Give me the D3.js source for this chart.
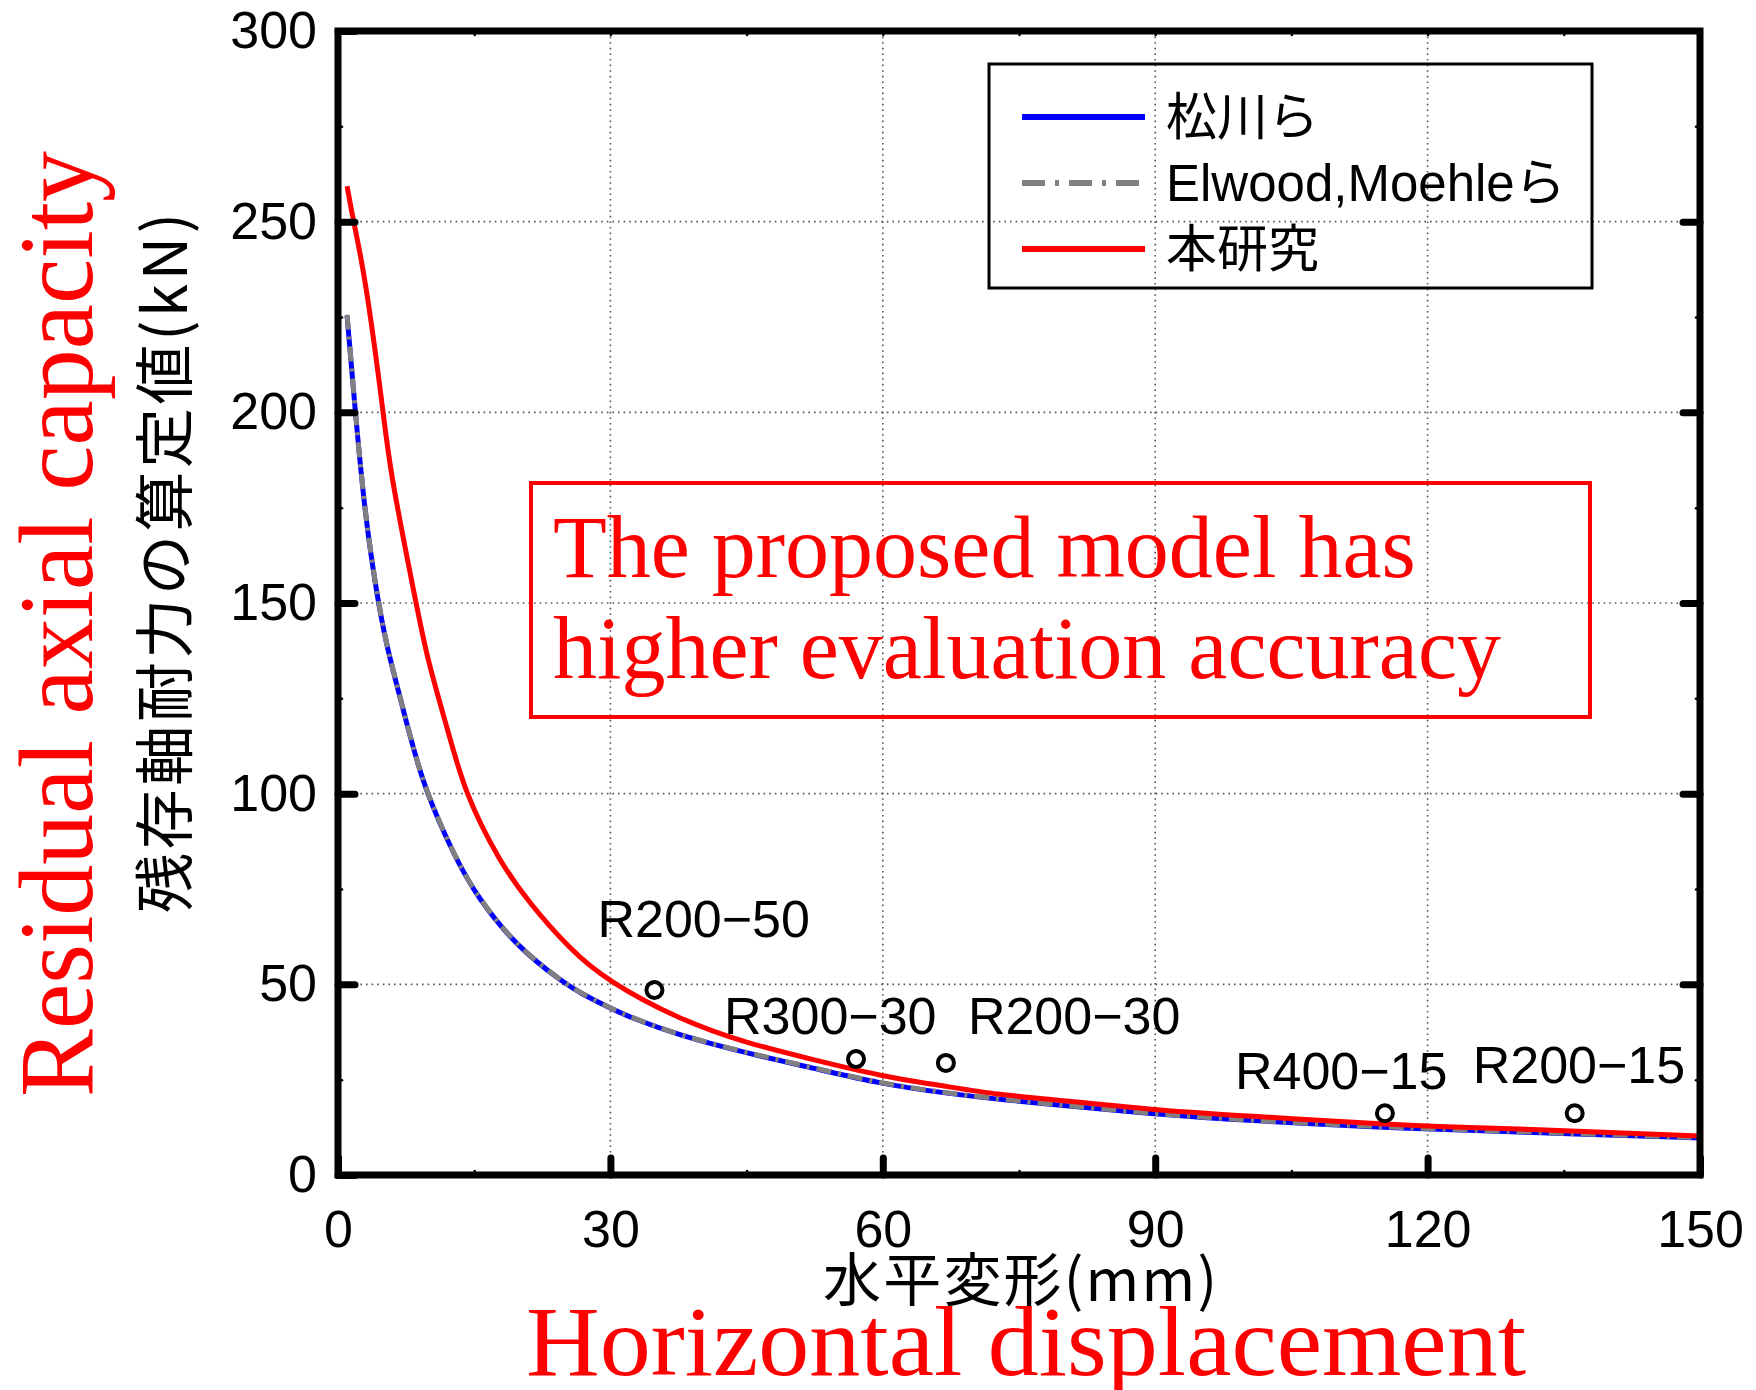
<!DOCTYPE html>
<html>
<head>
<meta charset="utf-8">
<script src="https://cdn.jsdelivr.net/npm/d3@7"></script>
<style>
  body { margin: 0; background: #fff; }
</style>
</head>
<body>
<svg id="chart" width="1756" height="1390"></svg>
<script>
// Residual axial capacity (kN) against horizontal displacement (mm), [x, y] pairs
const matsukawa = [
  [1.0, 225.3], [1.8, 203.0], [2.9, 174.4], [4.3, 151.6], [5.4, 138.5], [6.1, 132.0],
  [7.9, 115.3], [9.6, 100.8], [12.9, 83.2], [15.3, 73.0], [19.7, 59.8], [24.9, 50.3],
  [26.7, 47.7], [30.0, 43.7], [32.2, 41.3], [37.7, 36.5], [45.1, 31.9], [52.4, 28.0],
  [60.0, 23.8], [67.1, 21.4], [72.9, 19.8], [77.4, 18.8], [90.0, 15.9], [100.0, 14.3],
  [114.9, 12.5], [120.0, 12.1], [137.0, 10.7], [150.0, 9.7]
];
const elwoodMoehle = [
  [1.0, 225.6], [1.8, 203.2], [2.9, 174.6], [4.3, 151.8], [5.4, 138.6], [6.1, 132.2],
  [7.9, 115.4], [9.6, 100.9], [12.9, 83.3], [15.3, 73.1], [19.7, 59.9], [24.9, 50.4],
  [26.7, 47.8], [30.0, 43.8], [32.2, 41.4], [37.7, 36.6], [45.1, 32.0], [52.4, 28.1],
  [60.0, 23.9], [67.1, 21.5], [72.9, 19.9], [77.4, 18.9], [90.0, 16.0], [100.0, 14.4],
  [114.9, 12.6], [120.0, 12.2], [137.0, 10.8], [150.0, 9.8]
];
const proposed = [
  [1.0, 259.3], [1.7, 250.0], [3.0, 235.7], [5.0, 200.0], [5.7, 184.8], [8.6, 150.0],
  [9.8, 135.5], [12.2, 115.8], [14.0, 100.0], [17.7, 82.6], [20.8, 72.1], [25.6, 59.0],
  [29.6, 51.0], [37.7, 40.6], [45.1, 34.5], [52.4, 30.2], [60.0, 25.8], [67.1, 23.2],
  [72.9, 21.0], [77.4, 20.1], [90.0, 17.0], [100.0, 15.5], [114.9, 13.4], [120.0, 12.8],
  [137.3, 11.5], [150.0, 10.2]
];

// Test specimens
const specimenNames = ["R200−50", "R300−30", "R200−30", "R400−15", "R200−15"];
const specimenX = [34.85, 57.05, 66.95, 115.3, 136.2];
const specimenY = [48.5, 30.4, 29.4, 16.2, 16.2];

// Axis ticks and legend
const xTicks = [0, 30, 60, 90, 120, 150];
const yTicks = [0, 50, 100, 150, 200, 250, 300];
const xMinorTicks = [15, 45, 75, 105, 135];
const yMinorTicks = [25, 75, 125, 175, 225, 275];
const legendLabels = ["松川ら", "Elwood,Moehleら", "本研究"];

const svg = d3.select("#chart");
const x = d3.scaleLinear().domain([0, 150]).range([338, 1700]);
const y = d3.scaleLinear().domain([0, 300]).range([1175, 31]);

const NUM_FONT = "'Liberation Sans', Arial, sans-serif";
const JP_FONT = "'Noto Sans CJK JP', 'Liberation Sans', sans-serif";
const SERIF = "'Liberation Serif', 'Times New Roman', serif";

svg.append("rect").attr("width", 1756).attr("height", 1390).attr("fill", "#fff");

// dotted grid
const grid = svg.append("g")
  .attr("stroke", "#555").attr("stroke-width", 1.6).attr("stroke-dasharray", "1.6,4");
grid.selectAll(".gx").data(xTicks.slice(1, -1)).join("line")
  .attr("x1", d => x(d)).attr("x2", d => x(d)).attr("y1", y(300)).attr("y2", y(0));
grid.selectAll(".gy").data(yTicks.slice(1, -1)).join("line")
  .attr("y1", d => y(d)).attr("y2", d => y(d)).attr("x1", x(0)).attr("x2", x(150));

// curves
svg.append("clipPath").attr("id", "plotClip").append("rect")
  .attr("x", x(0)).attr("y", y(300)).attr("width", x(150) - x(0)).attr("height", y(0) - y(300));
const plot = svg.append("g").attr("clip-path", "url(#plotClip)");
const line = d3.line().x(d => x(d[0])).y(d => y(d[1])).curve(d3.curveBasis);

plot.append("path").datum(matsukawa).attr("d", line)
  .attr("fill", "none").attr("stroke", "#0000ff").attr("stroke-width", 5);
plot.append("path").datum(elwoodMoehle).attr("d", line)
  .attr("fill", "none").attr("stroke", "#808080").attr("stroke-width", 5)
  .attr("stroke-dasharray", "15,7,3,7");
plot.append("path").datum(proposed).attr("d", line)
  .attr("fill", "none").attr("stroke", "#ff0000").attr("stroke-width", 5);

// specimen markers and names
const specimens = specimenNames.map((n, i) => ({ name: n, x: specimenX[i], y: specimenY[i] }));
svg.append("g").selectAll("circle").data(specimens).join("circle")
  .attr("cx", d => x(d.x)).attr("cy", d => y(d.y)).attr("r", 8)
  .attr("fill", "none").attr("stroke", "#000").attr("stroke-width", 4);

// label placement relative to each marker (left edge, baseline)
const labelOffsets = [[-57, -53], [-132, -25], [22, -29], [-150, -24], [-102, -30]];
svg.append("g").selectAll("text").data(specimens).join("text")
  .attr("x", (d, i) => x(d.x) + labelOffsets[i][0])
  .attr("y", (d, i) => y(d.y) + labelOffsets[i][1])
  .attr("font-family", NUM_FONT).attr("font-size", 52).attr("fill", "#000")
  .text(d => d.name);

// axes: thick inward major ticks, small minor ticks
function styleAxis(g, width) {
  g.select(".domain").remove();
  g.selectAll(".tick line").attr("stroke", "#000").attr("stroke-width", width).attr("stroke-linecap", "round");
  g.selectAll(".tick text").attr("font-family", NUM_FONT).attr("font-size", 52).attr("fill", "#000");
}
svg.append("g").attr("transform", `translate(${x(0)},0)`)
  .call(d3.axisLeft(y).tickValues(yTicks).tickSizeInner(-17).tickSizeOuter(0).tickPadding(21))
  .call(g => styleAxis(g, 7));
svg.append("g").attr("transform", `translate(${x(150)},0)`)
  .call(d3.axisRight(y).tickValues(yTicks.slice(1, -1)).tickSizeInner(-17).tickSizeOuter(0).tickFormat(""))
  .call(g => styleAxis(g, 7));
svg.append("g").attr("transform", `translate(0,${y(0)})`)
  .call(d3.axisBottom(x).tickValues(xTicks).tickSizeInner(-17).tickSizeOuter(0).tickPadding(35))
  .call(g => styleAxis(g, 7));
svg.append("g").attr("transform", `translate(0,${y(300)})`)
  .call(d3.axisTop(x).tickValues(xMinorTicks.concat(xTicks.slice(1, -1))).tickSizeInner(-4).tickSizeOuter(0).tickFormat(""))
  .call(g => styleAxis(g, 2.5));
svg.append("g").attr("transform", `translate(0,${y(0)})`)
  .call(d3.axisBottom(x).tickValues(xMinorTicks).tickSizeInner(-4).tickSizeOuter(0).tickFormat(""))
  .call(g => styleAxis(g, 2.5));
svg.append("g").attr("transform", `translate(${x(0)},0)`)
  .call(d3.axisLeft(y).tickValues(yMinorTicks).tickSizeInner(-4).tickSizeOuter(0).tickFormat(""))
  .call(g => styleAxis(g, 2.5));
svg.append("g").attr("transform", `translate(${x(150)},0)`)
  .call(d3.axisRight(y).tickValues(yMinorTicks).tickSizeInner(-4).tickSizeOuter(0).tickFormat(""))
  .call(g => styleAxis(g, 2.5));

// plot frame
svg.append("rect")
  .attr("x", x(0)).attr("y", y(300)).attr("width", x(150) - x(0)).attr("height", y(0) - y(300))
  .attr("fill", "none").attr("stroke", "#000").attr("stroke-width", 7);

// legend
const legend = svg.append("g");
legend.append("rect").attr("x", 989).attr("y", 64).attr("width", 603).attr("height", 224)
  .attr("fill", "none").attr("stroke", "#000").attr("stroke-width", 3);
const legendStyles = [
  { color: "#0000ff", dash: null },
  { color: "#808080", dash: "23,10,4,10" },
  { color: "#ff0000", dash: null }
];
legendLabels.forEach((label, i) => {
  const ly = 117 + i * 66;
  legend.append("line").attr("x1", 1022).attr("x2", 1145).attr("y1", ly).attr("y2", ly)
    .attr("stroke", legendStyles[i].color).attr("stroke-width", 6)
    .attr("stroke-dasharray", legendStyles[i].dash);
  legend.append("text").attr("x", 1166).attr("y", ly).attr("dominant-baseline", "central")
    .attr("font-family", NUM_FONT + ", 'Noto Sans CJK JP'").attr("font-size", 51).attr("fill", "#000")
    .text(label);
});

// annotation box
svg.append("rect").attr("x", 531).attr("y", 483).attr("width", 1059).attr("height", 234)
  .attr("fill", "none").attr("stroke", "#ff0000").attr("stroke-width", 4);
["The proposed model has", "higher evaluation accuracy"].forEach((t, i) => {
  svg.append("text").attr("x", 553).attr("y", 577 + i * 101)
    .attr("font-family", SERIF).attr("font-size", 88).attr("fill", "#ff0000").text(t);
});

// axis titles
svg.append("text").attr("x", 1020).attr("y", 1276).attr("text-anchor", "middle")
  .attr("dominant-baseline", "central").attr("font-family", JP_FONT).attr("font-size", 58)
  .attr("fill", "#000").attr("textLength", 394).attr("lengthAdjust", "spacing")
  .text("水平変形(mm)");
svg.append("text").attr("transform", "translate(160,563) rotate(-90)").attr("text-anchor", "middle")
  .attr("dominant-baseline", "central").attr("font-family", JP_FONT).attr("font-size", 60)
  .attr("fill", "#000").attr("textLength", 700).attr("lengthAdjust", "spacing")
  .text("残存軸耐力の算定値(kN)");
svg.append("text").attr("x", 1026).attr("y", 1375).attr("text-anchor", "middle")
  .attr("font-family", SERIF).attr("font-size", 100).attr("fill", "#ff0000")
  .attr("textLength", 1000).attr("lengthAdjust", "spacingAndGlyphs")
  .text("Horizontal displacement");
svg.append("text").attr("transform", "translate(92,624) rotate(-90)").attr("text-anchor", "middle")
  .attr("font-family", SERIF).attr("font-size", 106).attr("fill", "#ff0000")
  .attr("textLength", 946).attr("lengthAdjust", "spacingAndGlyphs")
  .text("Residual axial capacity");
</script>
</body>
</html>
